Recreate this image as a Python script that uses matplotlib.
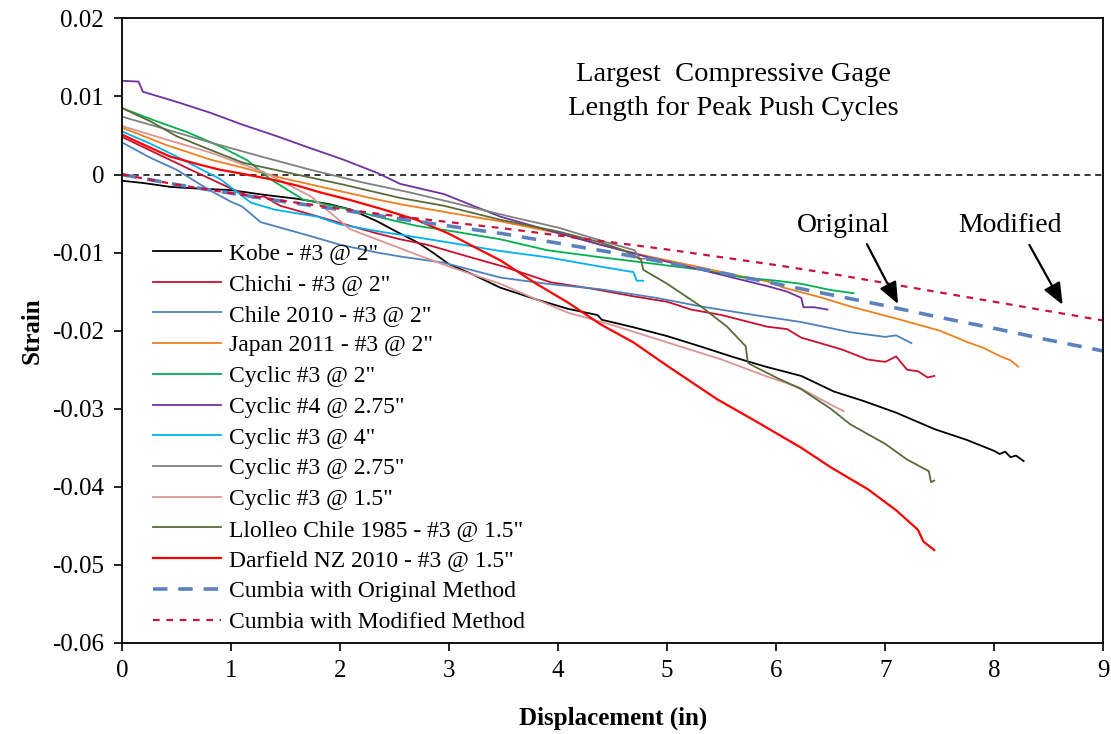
import matplotlib

matplotlib.use("Agg")
import matplotlib.pyplot as plt

plt.rcParams["font.family"] = ["Liberation Serif", "DejaVu Serif"]

# --- data ---
kobe_x = [0, 0.2, 0.45, 0.7, 1.0, 1.3, 1.6, 1.9, 2.1, 2.34, 2.5, 2.71, 2.85, 3.0, 3.2, 3.47, 3.8,
          4.09, 4.36, 4.4, 4.7, 5.0, 5.3, 5.61, 5.9, 6.23, 6.53, 6.8, 7.1, 7.45, 7.75, 8.0, 8.05,
          8.1, 8.15, 8.2, 8.27]
kobe_y = [-0.0008, -0.0011, -0.0016, -0.0018, -0.0020, -0.0026, -0.0031, -0.0038, -0.0045, -0.0060,
          -0.0072, -0.0087, -0.0100, -0.0115, -0.0127, -0.0145, -0.0160, -0.0172, -0.0180, -0.0186,
          -0.0196, -0.0207, -0.0220, -0.0234, -0.0246, -0.0258, -0.0278, -0.0290, -0.0305, -0.0326,
          -0.0340, -0.0354, -0.0358, -0.0355, -0.0362, -0.0360, -0.0367]

chichi_x = [0, 0.3, 0.6, 1.0, 1.2, 1.3, 1.45, 1.7, 2.0, 2.3, 2.55, 2.8, 3.17, 3.5, 3.93, 4.3, 4.69,
            5.0, 5.22, 5.5, 5.92, 6.1, 6.23, 6.38, 6.6, 6.84, 7.0, 7.1, 7.2, 7.3, 7.39, 7.45]
chichi_y = [0.0048, 0.0028, 0.0008, -0.0018, -0.0030, -0.0028, -0.0040, -0.0050, -0.0062, -0.0074,
            -0.0083, -0.0090, -0.0105, -0.0118, -0.0138, -0.0146, -0.0156, -0.0163, -0.0173, -0.0180,
            -0.0195, -0.0198, -0.0209, -0.0215, -0.0224, -0.0237, -0.0240, -0.0233, -0.0250, -0.0252,
            -0.0260, -0.0258]

chile_x = [0, 0.25, 0.5, 0.8, 1.0, 1.1, 1.27, 1.5, 1.73, 2.0, 2.34, 2.55, 2.95, 3.47, 3.9, 4.39,
           4.9, 5.31, 5.8, 6.23, 6.68, 7.0, 7.1, 7.24]
chile_y = [0.0041, 0.0022, 0.0006, -0.0020, -0.0035, -0.0041, -0.0061, -0.0070, -0.0079, -0.0090,
           -0.0100, -0.0105, -0.0113, -0.0132, -0.0140, -0.0147, -0.0158, -0.0169, -0.0180, -0.0189,
           -0.0202, -0.0208, -0.0206, -0.0216]

japan_x = [0, 0.4, 0.81, 1.1, 1.42, 1.8, 2.34, 2.55, 3.0, 3.47, 4.0, 4.39, 4.8, 5.31, 5.6, 5.92,
           6.07, 6.4, 6.68, 7.14, 7.5, 7.76, 7.9, 8.06, 8.15, 8.22]
japan_y = [0.0060, 0.0038, 0.0019, 0.0009, -0.0003, -0.0015, -0.0032, -0.0038, -0.0049, -0.0060,
           -0.0075, -0.0090, -0.0104, -0.0119, -0.0128, -0.0137, -0.0145, -0.0157, -0.0169, -0.0186,
           -0.0200, -0.0215, -0.0222, -0.0233, -0.0238, -0.0246]

cyc3_2_x = [0, 0.28, 0.6, 0.9, 1.15, 1.36, 1.66, 2.09, 2.4, 2.71, 3.0, 3.47, 3.9, 4.39, 4.8, 5.31,
            5.7, 6.0, 6.23, 6.5, 6.71]
cyc3_2_y = [0.0085, 0.0070, 0.0054, 0.0036, 0.0018, -0.0006, -0.0032, -0.0045, -0.0056, -0.0066,
            -0.0072, -0.0083, -0.0097, -0.0106, -0.0113, -0.0122, -0.0132, -0.0136, -0.0140, -0.0148,
            -0.0152]

cyc4_275_x = [0, 0.15, 0.19, 0.5, 0.81, 1.1, 1.42, 1.7, 2.03, 2.34, 2.55, 2.95, 3.47, 4.0, 4.39,
              4.8, 5.31, 5.6, 5.92, 6.1, 6.23, 6.25, 6.35, 6.47]
cyc4_275_y = [0.0120, 0.0119, 0.0106, 0.0093, 0.0079, 0.0064, 0.0049, 0.0035, 0.0019, 0.0002,
              -0.0012, -0.0025, -0.0054, -0.0075, -0.0090, -0.0105, -0.0122, -0.0132, -0.0143,
              -0.0150, -0.0158, -0.0170, -0.0170, -0.0173]

cyc3_4_x = [0, 0.25, 0.5, 0.9, 1.18, 1.4, 1.79, 2.0, 2.4, 2.55, 2.95, 3.47, 3.9, 4.39, 4.69, 4.72,
            4.78]
cyc3_4_y = [0.0055, 0.0040, 0.0023, -0.0006, -0.0036, -0.0045, -0.0054, -0.0064, -0.0074, -0.0077,
            -0.0086, -0.0098, -0.0106, -0.0118, -0.0125, -0.0136, -0.0136]

cyc3_275_x = [0, 0.4, 0.81, 1.3, 1.73, 2.2, 2.64, 3.0, 3.56, 4.0, 4.4, 4.7, 4.75, 4.9, 4.95]
cyc3_275_y = [0.0074, 0.0058, 0.0041, 0.0022, 0.0006, -0.0010, -0.0023, -0.0035, -0.0054, -0.0068,
              -0.0085, -0.0097, -0.0108, -0.0107, -0.0113]

cyc3_15_x = [0, 0.4, 0.81, 1.3, 1.73, 2.09, 2.71, 3.0, 3.47, 3.8, 4.09, 4.5, 5.0, 5.5, 5.92, 6.2,
             6.53, 6.62]
cyc3_15_y = [0.0062, 0.0045, 0.0028, 0.0003, -0.0028, -0.0070, -0.0103, -0.0118, -0.0140, -0.0160,
             -0.0177, -0.0193, -0.0215, -0.0237, -0.0259, -0.0272, -0.0297, -0.0303]

llolleo_x = [0, 0.26, 0.5, 0.8, 1.11, 1.5, 2.03, 2.55, 2.95, 3.47, 4.0, 4.39, 4.6, 4.76, 4.78, 5.0,
             5.31, 5.55, 5.72, 5.74, 5.76, 6.0, 6.23, 6.5, 6.68, 7.0, 7.2, 7.4, 7.42, 7.45]
llolleo_y = [0.0085, 0.0068, 0.0049, 0.0032, 0.0015, 0.0003, -0.0013, -0.0030, -0.0040, -0.0058,
             -0.0073, -0.0087, -0.0097, -0.0109, -0.0122, -0.0140, -0.0169, -0.0195, -0.0220,
             -0.0241, -0.0243, -0.0260, -0.0275, -0.0300, -0.0320, -0.0345, -0.0365, -0.0380,
             -0.0394, -0.0392]

darfield_x = [0, 0.2, 0.44, 0.7, 0.9, 1.1, 1.36, 1.6, 1.82, 2.1, 2.4, 2.7, 3.0, 3.26, 3.47, 3.8,
              4.09, 4.39, 4.69, 5.0, 5.46, 5.8, 6.23, 6.5, 6.84, 7.1, 7.3, 7.35, 7.45]
darfield_y = [0.0051, 0.0038, 0.0023, 0.0013, 0.0006, 0.0001, -0.0006, -0.0014, -0.0023, -0.0033,
              -0.0045, -0.0058, -0.0076, -0.0095, -0.0110, -0.0140, -0.0164, -0.0192, -0.0215,
              -0.0245, -0.0288, -0.0315, -0.0350, -0.0375, -0.0403, -0.0430, -0.0455, -0.0470,
              -0.0481]

cumbia_x = [0, 0.5, 1, 1.5, 2, 2.5, 3, 3.5, 4, 4.5, 5, 5.5, 6, 6.5, 7, 7.5, 8, 8.5, 9]
cumbia_orig_y = [0, -0.0013, -0.0024, -0.0035, -0.0045, -0.0056, -0.0066, -0.0076, -0.0088,
                 -0.0100, -0.0113, -0.0126, -0.0140, -0.0154, -0.0168, -0.0183, -0.0197, -0.0212,
                 -0.0226]
cumbia_mod_y = [0, -0.0013, -0.0024, -0.0034, -0.0044, -0.0053, -0.0061, -0.0069, -0.0078,
                -0.0087, -0.0096, -0.0106, -0.0116, -0.0127, -0.0139, -0.0151, -0.0163, -0.0175,
                -0.0187]

x_ticks = [0, 1, 2, 3, 4, 5, 6, 7, 8, 9]
y_ticks = [-0.06, -0.05, -0.04, -0.03, -0.02, -0.01, 0, 0.01, 0.02]
y_tick_labels = ["-0.06", "-0.05", "-0.04", "-0.03", "-0.02", "-0.01", "0", "0.01", "0.02"]

fig = plt.figure(figsize=(11.11, 7.34), dpi=100)
ax = fig.add_axes([0.110, 0.124, 0.883, 0.851])

ax.axhline(0, color="black", lw=1.1, ls=(0, (4, 3)), zorder=1)

series = [
    (kobe_x, kobe_y, "Kobe - #3 @ 2\"", "#000000", 1.3),
    (chichi_x, chichi_y, "Chichi - #3 @ 2\"", "#C8102E", 1.3),
    (chile_x, chile_y, "Chile 2010 - #3 @ 2\"", "#4F81BD", 1.3),
    (japan_x, japan_y, "Japan 2011 - #3 @ 2\"", "#F07F1E", 1.3),
    (cyc3_2_x, cyc3_2_y, "Cyclic #3 @ 2\"", "#00B050", 1.3),
    (cyc4_275_x, cyc4_275_y, "Cyclic #4 @ 2.75\"", "#7030A0", 1.3),
    (cyc3_4_x, cyc3_4_y, "Cyclic #3 @ 4\"", "#00B0F0", 1.3),
    (cyc3_275_x, cyc3_275_y, "Cyclic #3 @ 2.75\"", "#808080", 1.3),
    (cyc3_15_x, cyc3_15_y, "Cyclic #3 @ 1.5\"", "#D99694", 1.3),
    (llolleo_x, llolleo_y, "Llolleo Chile 1985 - #3 @ 1.5\"", "#5A6B3A", 1.3),
    (darfield_x, darfield_y, "Darfield NZ 2010 - #3 @ 1.5\"", "#FF0000", 1.6),
]
for xs, ys, label, color, lw in series:
    ax.plot(xs, ys, color=color, lw=lw, label=label)

ax.plot(cumbia_x, cumbia_orig_y, color="#5B80BC", lw=2.6, ls=(0, (4, 3)),
        label="Cumbia with Original Method")
ax.plot(cumbia_x, cumbia_mod_y, color="#C8143C", lw=1.6, ls=(0, (3, 3)),
        label="Cumbia with Modified Method")

ax.set_xlim(0, 9)
ax.set_ylim(-0.06, 0.02)
ax.set_xticks(x_ticks)
ax.set_yticks(y_ticks)
ax.set_yticklabels(y_tick_labels)
ax.tick_params(direction="out", length=6, width=1.2, labelsize=18)
ax.tick_params(axis="y", pad=7)
ax.tick_params(axis="x", pad=6)
for side in ax.spines.values():
    side.set_linewidth(1.3)

ax.set_xlabel("Displacement (in)", fontsize=18, fontweight="bold", labelpad=18)
ax.set_ylabel("Strain", fontsize=18, fontweight="bold", labelpad=6)

ax.text(5.61, 0.0106, "Largest  Compressive Gage\nLength for Peak Push Cycles",
        ha="center", va="center", fontsize=20.5, linespacing=1.45)

ax.annotate("", xy=(7.13, -0.0169), xytext=(6.82, -0.0086),
            arrowprops=dict(arrowstyle="-|>,head_length=0.6,head_width=0.25", color="black",
                            lw=1.6, mutation_scale=22))
ax.annotate("", xy=(8.64, -0.0170), xytext=(8.31, -0.0087),
            arrowprops=dict(arrowstyle="-|>,head_length=0.6,head_width=0.25", color="black",
                            lw=1.6, mutation_scale=22))
ax.text(6.62, -0.0065, "Original", ha="center", va="center", fontsize=20)
ax.text(8.14, -0.0065, "Modified", ha="center", va="center", fontsize=20)

ax.legend(loc="upper left", bbox_to_anchor=(0.031, 0.641), frameon=False, fontsize=17,
          handlelength=2.9, handletextpad=0.35, labelspacing=0.39, borderaxespad=0,
          borderpad=0)

fig.savefig("out.png", dpi=100)
